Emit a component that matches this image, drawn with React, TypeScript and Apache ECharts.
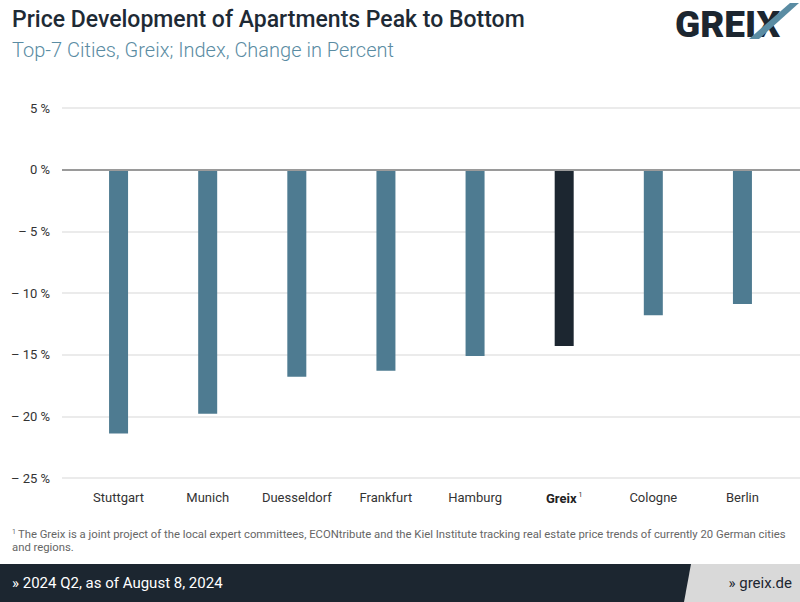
import React, { useEffect, useRef } from "react";
import * as echarts from "echarts";

const categories = ["Stuttgart", "Munich", "Duesseldorf", "Frankfurt", "Hamburg", "Greix", "Cologne", "Berlin"];
const values = [-21.4, -19.8, -16.8, -16.3, -15.1, -14.3, -11.8, -10.9];
const highlight = "Greix";

const TITLE = "Price Development of Apartments Peak to Bottom";
const SUBTITLE = "Top-7 Cities, Greix; Index, Change in Percent";
const FOOTNOTE_1 = "The Greix is a joint project of the local expert committees, ECONtribute and the Kiel Institute tracking real estate price trends of currently 20 German cities";
const FOOTNOTE_2 = "and regions.";
const FOOTER_LEFT = "» 2024 Q2, as of August 8, 2024";
const FOOTER_RIGHT = "» greix.de";

const FONT = "Roboto, 'Noto Sans', sans-serif";

export default function App() {
  const ref = useRef<HTMLDivElement>(null);
  useEffect(() => {
    if (!ref.current) return;
    const chart = echarts.init(ref.current, undefined, { renderer: "svg" });
    chart.setOption({
      animation: false,
      backgroundColor: "#ffffff",
      textStyle: { fontFamily: FONT },
      grid: [
        { left: 62, right: 0, top: 108, bottom: 124, containLabel: false },
        { left: 74, right: 13, top: 108, bottom: 124, containLabel: false },
      ],
      xAxis: [
        { type: "value", gridIndex: 0, min: 0, max: 1, show: false },
        {
          type: "category",
          gridIndex: 1,
          data: categories,
          position: "bottom",
          axisLine: { show: false },
          axisTick: { show: false },
          axisLabel: {
            interval: 0,
            margin: 13,
            fontSize: 13,
            color: "#333333",
            fontFamily: FONT,
            formatter: (v: string) => (v === highlight ? "{b|" + v + "}{sup|1}" : v),
            rich: {
              b: { fontWeight: "bold", fontSize: 13, color: "#222222", fontFamily: FONT },
              sup: { fontSize: 7, color: "#333333", padding: [0, 0, 8, 2], fontFamily: FONT },
            },
          },
        },
      ],
      yAxis: [
        {
          type: "value",
          gridIndex: 0,
          min: -25,
          max: 5,
          interval: 5,
          axisLine: { show: false },
          axisTick: { show: false },
          splitLine: { lineStyle: { color: "#e5e5e5", width: 1.5 } },
          axisLabel: {
            margin: 12,
            fontSize: 13,
            color: "#333333",
            fontFamily: FONT,
            formatter: (v: number) => (v === 0 ? "0 %" : v < 0 ? "– " + Math.abs(v) + " %" : v + " %"),
          },
        },
        { type: "value", gridIndex: 1, min: -25, max: 5, interval: 5, show: false, splitLine: { show: false } },
      ],
      series: [
        {
          type: "line",
          xAxisIndex: 0,
          yAxisIndex: 0,
          data: [],
          markLine: {
            silent: true,
            symbol: "none",
            label: { show: false },
            lineStyle: { color: "#9a9a9a", width: 2, type: "solid" },
            data: [{ yAxis: 0 }],
          },
        },
        {
          type: "bar",
          xAxisIndex: 1,
          yAxisIndex: 1,
          barWidth: 19,
          data: values.map((v, i) => ({
            value: v,
            itemStyle: { color: categories[i] === highlight ? "#1c2630" : "#4e7b91" },
          })),
        },
      ],
      graphic: [
        {
          type: "text",
          left: 12,
          top: 8,
          style: { text: TITLE, fontSize: 23, fontWeight: 500, fill: "#1e2a35", fontFamily: FONT },
        },
        {
          type: "text",
          left: 12,
          top: 40,
          style: { text: SUBTITLE, fontSize: 20, fontWeight: 300, fill: "#5a8ca3", fontFamily: FONT },
        },
        {
          type: "text",
          left: 675,
          top: 6,
          style: { text: "GREIX", fontSize: 37, fontWeight: 900, fill: "#1c2630", fontFamily: FONT },
        },
        {
          type: "polygon",
          shape: { points: [[749, 39], [759, 39], [799, 3], [790, 3]] },
          style: { fill: "#5a8ca3" },
        },
        {
          type: "text",
          left: 12,
          top: 528,
          style: {
            text: "{s|1}{t|" + FOOTNOTE_1 + "}\n{t|" + FOOTNOTE_2 + "}",
            fill: "#666666",
            fontFamily: FONT,
            rich: {
              s: { fontSize: 7, fill: "#666666", padding: [0, 2, 6, 0], fontFamily: FONT },
              t: { fontSize: 11.3, fill: "#666666", lineHeight: 13, fontFamily: FONT },
            },
          },
        },
        {
          type: "rect",
          shape: { x: 0, y: 564, width: 800, height: 38 },
          style: { fill: "#1c2630" },
        },
        {
          type: "polygon",
          shape: { points: [[691, 564], [800, 564], [800, 602], [684, 602]] },
          style: { fill: "#d9d9d9" },
        },
        {
          type: "text",
          left: 12,
          top: 575,
          style: { text: FOOTER_LEFT, fontSize: 15, fill: "#ffffff", fontFamily: FONT },
        },
        {
          type: "text",
          right: 8,
          top: 575,
          style: { text: FOOTER_RIGHT, fontSize: 15, fill: "#1c2630", fontFamily: FONT },
        },
      ],
    });
    return () => chart.dispose();
  }, []);
  return <div ref={ref} style={{ position: "fixed", left: 0, top: 0, width: 800, height: 602 }} />;
}
